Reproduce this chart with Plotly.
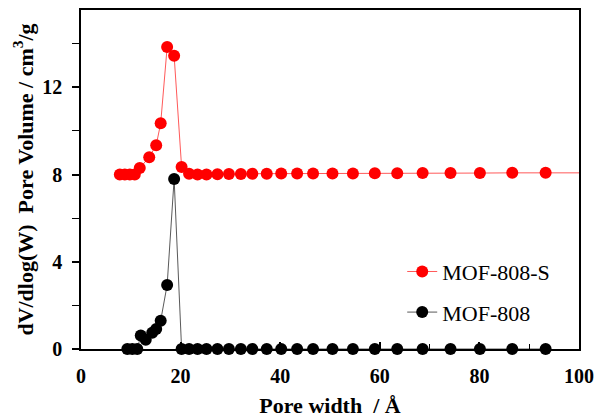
import plotly.graph_objects as go

# Pore width (Å)
x_s = [7.8, 8.8, 9.8, 10.8, 11.8, 13.7, 15.1, 16.0, 17.3, 18.7, 20.2, 21.7, 23.4, 25.2,
       27.4, 29.7, 32.1, 34.4, 37.3, 40.2, 43.4, 46.6, 50.5, 54.6, 59.0, 63.5, 68.6,
       74.2, 80.1, 86.6, 93.3, 103.0]
y_s = [8.0, 8.0, 8.0, 8.0, 8.3, 8.8, 9.35, 10.35, 13.85, 13.45, 8.35, 8.04, 8.0, 8.0,
       8.02, 8.03, 8.03, 8.04, 8.04, 8.05, 8.05, 8.05, 8.05, 8.05, 8.06, 8.06, 8.07,
       8.07, 8.07, 8.08, 8.08, 8.08]

x_m = [9.3, 10.3, 11.3, 12.0, 13.0, 14.3, 15.1, 16.0, 17.3, 18.7, 20.2, 21.7, 23.4, 25.2,
       27.4, 29.7, 32.1, 34.4, 37.3, 40.2, 43.4, 46.6, 50.5, 54.6, 59.0, 63.5, 68.6,
       74.2, 80.1, 86.6, 93.3]
y_m = [0.0, 0.0, 0.0, 0.62, 0.42, 0.75, 0.92, 1.3, 2.94, 7.8, 0.0, 0.0, 0.0, 0.0,
       0.0, 0.0, 0.0, 0.0, 0.0, 0.0, 0.0, 0.0, 0.0, 0.0, 0.0, 0.0, 0.0,
       0.0, 0.0, 0.0, 0.0]

x_ticks = [0, 20, 40, 60, 80, 100]
x_labels = ["<b>0</b>", "<b>20</b>", "<b>40</b>", "<b>60</b>", "<b>80</b>", "<b>100</b>"]
y_ticks = [0, 4, 8, 12]
y_labels = ["<b>0</b>", "<b>4</b>", "<b>8</b>", "<b>12</b>"]

FONT = "'Liberation Serif', 'Times New Roman', serif"

fig = go.Figure()
fig.add_trace(go.Scatter(
    x=x_s, y=y_s, mode="lines+markers", name="MOF-808-S",
    line=dict(color="rgba(255,60,60,0.85)", width=1),
    marker=dict(color="#ff0000", size=12),
    legendgroup="a", legendrank=1, cliponaxis=True))
fig.add_trace(go.Scatter(
    x=x_m, y=y_m, mode="lines+markers", name="MOF-808",
    line=dict(color="rgba(60,60,60,0.85)", width=1),
    marker=dict(color="#000000", size=12),
    legendgroup="b", legendrank=2, cliponaxis=False))

fig.update_layout(
    width=598, height=418,
    margin=dict(l=81, r=19, t=10, b=69, autoexpand=False),
    paper_bgcolor="white", plot_bgcolor="white",
    font=dict(family=FONT, color="black", size=20),
    showlegend=True,
    legend=dict(x=0.645, y=0.29, xanchor="left", yanchor="top",
                font=dict(family=FONT, size=22, color="black"),
                bgcolor="rgba(0,0,0,0)", borderwidth=0,
                tracegroupgap=9, traceorder="grouped"),
    xaxis=dict(range=[0, 100], tickvals=x_ticks, ticktext=x_labels, ticks="inside", ticklen=7,
               tickwidth=1.5, tickcolor="black", ticklabelstandoff=8, automargin=False,
               minor=dict(dtick=10, ticks="inside", ticklen=5, tickwidth=1.2, tickcolor="black"),
               showline=True, linecolor="black", linewidth=1.5, mirror=True,
               showgrid=False, zeroline=False,
               tickfont=dict(family=FONT, size=20, color="black"),
               title=dict(text="<b>Pore width  / Å</b>", standoff=16,
                          font=dict(family=FONT, size=22, color="black"))),
    yaxis=dict(range=[0, 15.55], tickvals=y_ticks, ticktext=y_labels, ticks="outside", ticklen=7,
               tickwidth=1.5, tickcolor="black", ticklabelstandoff=6, automargin=False,
               minor=dict(dtick=2, ticks="outside", ticklen=7, tickwidth=1.2, tickcolor="black"),
               showline=True, linecolor="black", linewidth=1.5, mirror=True,
               showgrid=False, zeroline=False,
               tickfont=dict(family=FONT, size=20, color="black"),
               title=dict(text="<b>dV/dlog(W)  Pore Volume / cm<sup>3</sup>/g</b>", standoff=3,
                          font=dict(family=FONT, size=22, color="black"))),
)

fig.write_html("out.html")
